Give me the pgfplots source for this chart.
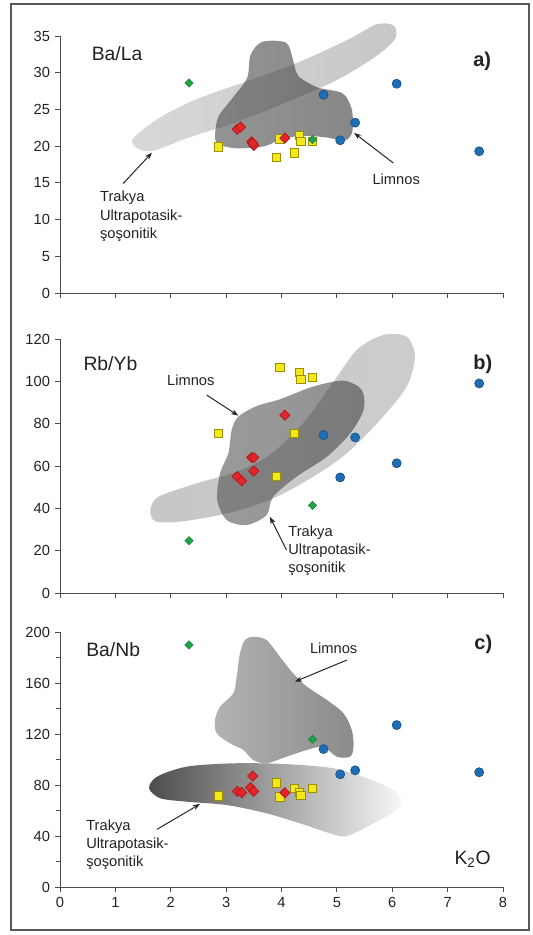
\documentclass[border=0pt]{standalone}
\usepackage{pgfplots}
\pgfplotsset{compat=1.18}
\usepackage{fontspec}
\setmainfont{Liberation Sans}
\usetikzlibrary{arrows.meta}
\definecolor{yfill}{HTML}{F4E81A}
\definecolor{ydraw}{HTML}{9A9000}
\definecolor{rfill}{HTML}{E3262B}
\definecolor{rdraw}{HTML}{B01515}
\definecolor{gfill}{HTML}{22A04A}
\definecolor{bfill}{HTML}{1F6DB5}
\definecolor{bdraw}{HTML}{17518A}
\definecolor{txt}{HTML}{222222}
\pgfplotsset{
  base/.style={
    width=332.25pt, scale only axis, anchor=south west,
    xmin=0, xmax=8, xtick={0,...,8}, clip=false,
    axis lines=left, axis line style={-, draw=black!70, line width=0.7pt},
    tick align=outside, major tick length=4pt, minor tick length=3pt,
    tick style={draw=black!70, line width=0.6pt},
    /pgf/number format/assume math mode=true,
    ticklabel style={font=\fontsize{11}{13}\selectfont, text=txt},
  },
  yel/.style={only marks, mark=square*, mark size=3.1pt, mark options={fill=yfill, draw=ydraw, line width=0.5pt}},
  red/.style={only marks, mark=square*, mark size=2.7pt, mark options={rotate=45, fill=rfill, draw=rdraw, line width=0.5pt}},
  grn/.style={only marks, mark=square*, mark size=2.2pt, mark options={rotate=45, fill=gfill, draw=gfill!80!black, line width=0.4pt}},
  blu/.style={only marks, mark=*, mark size=3.4pt, mark options={fill=bfill, draw=bdraw, line width=0.5pt}},
}
\tikzset{
  lbl/.style={anchor=base west, font=\fontsize{11}{13}\selectfont, text=txt, inner sep=0pt},
  big/.style={anchor=base west, font=\fontsize{14.5}{16}\selectfont, text=txt, inner sep=0pt},
  pan/.style={anchor=base west, font=\bfseries\fontsize{15}{17}\selectfont, text=txt, inner sep=0pt},
  arr/.style={-{Stealth[length=5.5pt,width=4pt]}, draw=black!85, line width=0.75pt},
}
\begin{document}
\begin{tikzpicture}[x=1pt,y=1pt]
\useasboundingbox (0,0) rectangle (399,701.25);
\draw[line width=1.6pt, draw=black!65] (8.25,3.75) rectangle (396.5,698.25);

% ---------------- panel a ----------------
\begin{axis}[base, at={(45pt,481.5pt)}, height=192.75pt,
  ymin=0, ymax=35, ytick={0,5,...,35}, xticklabels={,,,,,,,,}]
\addplot[yel] coordinates {(2.86,19.9) (3.91,18.5) (3.97,21.0) (4.23,19.1) (4.32,21.5) (4.35,20.7) (4.56,20.7)};
\addplot[red] coordinates {(3.20,22.3) (3.26,22.6) (3.46,20.6) (3.50,20.1) (3.48,20.4) (4.06,21.1)};
\addplot[grn] coordinates {(2.33,28.6) (4.56,20.9)};
\addplot[blu] coordinates {(4.76,27.0) (5.06,20.8) (5.33,23.2) (6.08,28.5) (7.57,19.3)};
% Trakya band
\addplot[draw=none, left color=black!38, right color=black!55, fill opacity=0.4, smooth cycle] coordinates {
 (1.30,20.6) (1.42,21.8) (1.85,24.1) (2.5,26.5) (3.4,28.9) (4.3,31.4) (5.2,34.5) (5.72,36.6) (6.03,36.4)
 (6.05,34.6) (5.7,32.2) (5.0,29.0) (4.1,26.0) (3.2,23.3) (2.3,21.1) (1.7,19.4) (1.42,19.6)};
% Limnos
\addplot[draw=none, left color=black!70, right color=black!78, fill opacity=0.6, smooth cycle] coordinates {
 (2.80,21.3) (2.86,24.0) (3.12,26.6) (3.38,29.3) (3.44,32.4) (3.65,34.2) (4.08,34.1) (4.20,32.0) (4.30,29.6)
 (4.65,28.0) (5.10,27.2) (5.27,25.0) (5.28,22.0) (5.15,20.8) (4.8,21.2) (4.4,21.4) (4.0,21.0) (3.7,20.0)
 (3.2,19.7) (2.87,20.2)};
\node[big] at (axis cs:0.57,31.6) {Ba/La};
\node[pan] at (axis cs:7.46,30.8) {a)};
\node[lbl] at (axis cs:0.72,12.43) {Trakya};
\node[lbl] at (axis cs:0.72,9.94) {Ultrapotasik-};
\node[lbl] at (axis cs:0.72,7.48) {şoşonitik};
\node[lbl] at (axis cs:5.64,14.8) {Limnos};
\draw[arr] (axis cs:1.14,14.9) -- (axis cs:1.66,19.1);
\draw[arr] (axis cs:6.02,17.7) -- (axis cs:5.31,21.8);
\end{axis}

% ---------------- panel b ----------------
\begin{axis}[base, at={(45pt,256.5pt)}, height=190.5pt,
  ymin=0, ymax=120, ytick={0,20,...,120}, xticklabels={,,,,,,,,}]
\addplot[yel] coordinates {(2.86,75.5) (3.91,55.0) (3.97,106.6) (4.23,75.5) (4.32,104.2) (4.35,101.0) (4.56,102.0)};
\addplot[red] coordinates {(3.20,55.0) (3.28,53.0) (3.46,64.0) (3.50,64.0) (3.50,57.6) (4.06,84.0)};
\addplot[grn] coordinates {(2.33,24.7) (4.56,41.4)};
\addplot[blu] coordinates {(4.76,74.6) (5.06,54.6) (5.33,73.5) (6.08,61.3) (7.57,99.0)};
% Trakya band
\addplot[draw=none, left color=black!58, right color=black!52, fill opacity=0.38, smooth cycle] coordinates {
 (1.63,39.2) (1.78,45.5) (2.47,51.8) (3.19,57.3) (3.79,65.2) (4.39,80.2) (4.88,97.5) (5.36,114.8) (5.84,121.9)
 (6.26,121.1) (6.41,111.6) (6.26,97.5) (5.78,81.7) (5.18,66.0) (4.57,54.9) (3.85,44.7) (3.07,37.9)
 (2.17,33.7) (1.72,33.9)};
% Limnos
\addplot[draw=none, left color=black!72, right color=black!78, fill opacity=0.55, smooth cycle] coordinates {
 (3.22,83.3) (3.55,88.3) (3.97,91.5) (4.57,97.5) (5.12,100.3) (5.45,95.9) (5.48,86.4) (5.24,75.4)
 (4.82,64.4) (4.27,54.9) (3.85,45.5) (3.73,36.8) (3.37,32.1) (3.01,34.5) (2.84,43.9) (2.89,56.5)
 (3.04,66.0) (3.10,77.0)};
\node[big] at (axis cs:0.42,105.3) {Rb/Yb};
\node[pan] at (axis cs:7.46,105.7) {b)};
\node[lbl] at (axis cs:1.93,97.9) {Limnos};
\node[lbl] at (axis cs:4.12,26.9) {Trakya};
\node[lbl] at (axis cs:4.12,18.3) {Ultrapotasik-};
\node[lbl] at (axis cs:4.12,9.6) {şoşonitik};
\draw[arr] (axis cs:2.65,93.5) -- (axis cs:3.22,83.8);
\draw[arr] (axis cs:4.09,20.3) -- (axis cs:3.79,36.0);
\end{axis}

% ---------------- panel c ----------------
\begin{axis}[base, at={(45pt,36pt)}, height=191.25pt,
  ymin=0, ymax=200, ytick={0,40,...,200}, minor y tick num=1]
% Trakya band (below points)
\addplot[draw=none, left color=black!70, right color=black!3, smooth cycle] coordinates {
 (1.61,77.4) (1.75,86.5) (2.29,94.4) (3.13,97.0) (4.03,96.5) (4.94,93.1) (5.54,85.3) (6.02,76.1)
 (6.17,68.2) (6.08,60.4) (5.72,51.2) (5.18,40.0) (4.88,42.1) (4.33,50.0) (3.73,57.8) (3.01,64.3)
 (2.29,66.9) (1.81,69.6)};
\addplot[yel] coordinates {(2.86,71.4) (3.91,81.6) (3.97,70.8) (4.23,77.1) (4.32,74.2) (4.35,71.9) (4.56,77.4)};
\addplot[red] coordinates {(3.20,75.0) (3.28,74.0) (3.48,87.0) (3.44,78.0) (3.50,75.0) (4.06,74.0)};
\addplot[grn] coordinates {(2.33,189.8) (4.56,115.8)};
\addplot[blu] coordinates {(4.76,108.2) (5.06,88.4) (5.33,91.5) (6.08,127.0) (7.57,90.0)};
% Limnos
\addplot[draw=none, left color=black!50, right color=black!76, fill opacity=0.6, smooth cycle] coordinates {
 (3.49,196.3) (3.73,193.7) (3.97,180.6) (4.21,167.6) (4.46,157.1) (4.82,146.7) (5.12,136.2) (5.27,123.1)
 (5.30,110.0) (5.24,102.2) (5.00,102.2) (4.75,110.0) (4.46,107.5) (4.09,102.2) (3.73,97.0) (3.49,99.6)
 (3.31,107.5) (3.07,112.7) (2.83,120.5) (2.80,131.0) (2.89,141.4) (3.13,151.9) (3.19,164.9) (3.25,183.3)
 (3.34,193.7)};
\node[big] at (axis cs:0.47,180.6) {Ba/Nb};
\node[pan] at (axis cs:7.48,186.4) {c)};
\node[lbl] at (axis cs:4.51,183.3) {Limnos};
\node[lbl] at (axis cs:0.47,44.7) {Trakya};
\node[lbl] at (axis cs:0.47,30.3) {Ultrapotasik-};
\node[lbl] at (axis cs:0.47,15.9) {şoşonitik};
\node[big] at (axis cs:7.12,17.3) {K\textsubscript{2}O};
\draw[arr] (axis cs:5.18,178) -- (axis cs:4.24,161);
\draw[arr] (axis cs:1.75,45.2) -- (axis cs:2.53,65.1);
\end{axis}
\end{tikzpicture}
\end{document}
